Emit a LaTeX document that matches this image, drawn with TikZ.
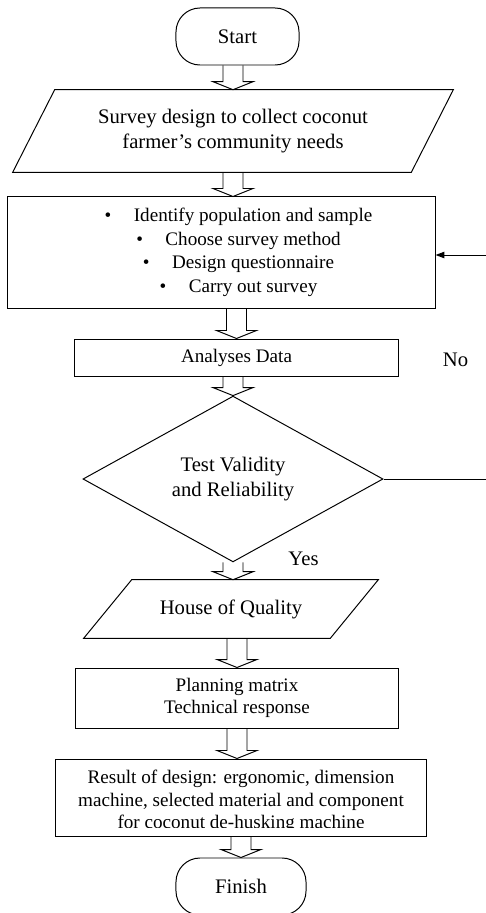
\documentclass[tikz,border=0pt]{standalone}
\usepackage{fontspec}
\setmainfont{Liberation Serif}
\usetikzlibrary{shapes.geometric,calc,arrows.meta}

\newcommand{\bigtext}{\fontsize{14.7}{17.6}\selectfont}
\newcommand{\smalltext}{\fontsize{13.6}{15.7}\selectfont}
% hollow block arrow: x taken from #1, from node #2 down to node #3
\newcommand{\hollowarrow}[3]{%
  \draw[hollow] ($(#1 |- #2.south)+(-10,0)$) -- ($(#1 |- #3.north)+(-10,-8)$)
    -- ++(-10,0) -- (#1 |- #3.north) -- ++(20,-8) -- ++(-10,0)
    -- ($(#1 |- #2.south)+(10,0)$);}
% slanted frame round node #1, top edge pushed right by #2
\newcommand{\slantframe}[2]{%
  \draw[line] (#1.south west) -- ($(#1.north west)+(#2,0)$) -- (#1.north east)
    -- ($(#1.south east)+(-#2,0)$) -- cycle;}

\tikzset{
  line/.style={line width=0.7pt},
  hollow/.style={line, line join=miter},
  terminal/.style={line, draw, rectangle, rounded corners=0.6cm, font=\bigtext, minimum height=1.425cm},
  inputbox/.style={rectangle, align=center, font=\bigtext},
  process/.style={line, draw, rectangle, align=center, font=\smalltext},
  decision/.style={line, draw, diamond, align=center, font=\bigtext, inner sep=0pt},
  plaintext/.style={align=center, inner sep=0pt},
}

\begin{document}
\begin{tikzpicture}[x=0.025cm, y=-0.025cm]
\useasboundingbox (0,0) rectangle (486,913);

\node[terminal, minimum width=3.075cm] (start) at (237.5,36.5) {Start};
\node[inputbox, minimum width=11cm, minimum height=2.05cm] (para1) at (233,131)
  {Survey design to collect coconut\\farmer’s community needs};
\slantframe{para1}{42}
\node[process, minimum width=10.675cm, minimum height=2.775cm] (box2) at (221.5,252.5) {};
\node[plaintext, font=\fontsize{13.6}{16.8}\selectfont] (steplist) at (238.5,252.5)
  {\textbullet\hspace{16pt}Identify population and sample\\
   \textbullet\hspace{16pt}Choose survey method\\
   \textbullet\hspace{16pt}Design questionnaire\\
   \textbullet\hspace{16pt}Carry out survey};
\node[process, minimum width=8.075cm, minimum height=0.925cm] (data) at (236.5,357.5) {Analyses Data};
\node[decision, minimum width=7.5cm, minimum height=3.85cm] (dec) at (233,479)
  {Test Validity\\and Reliability};
\node[inputbox, minimum width=7.35cm, minimum height=1.45cm] (hoq) at (231,609) {House of Quality};
\slantframe{hoq}{48}
\node[process, minimum width=8.05cm, minimum height=1.5cm] (plan) at (237,698)
  {Planning matrix\\Technical response};
\node[process, minimum width=9.25cm, minimum height=1.925cm] (result) at (241,797.5) {};
\begin{scope}
\clip (result.north west) rectangle ($(result.south east)+(0,-9)$);
\node[plaintext, font=\fontsize{13.6}{16}\selectfont] (resulttext) at (241,801.5)
  {Result of design: ergonomic, dimension\\
   machine, selected material and component\\
   for coconut de-husking machine};
\end{scope}
\node[terminal, minimum width=3.25cm] (finish) at (241,886.5) {Finish};

\node[plaintext, font=\bigtext] (nolabel) at (455.5,360) {No};
\node[plaintext, font=\bigtext] (yeslabel) at (303.5,559) {Yes};

\hollowarrow{para1}{start}{para1}
\hollowarrow{para1}{para1}{box2}
\hollowarrow{data}{box2}{data}
\hollowarrow{dec}{data}{dec}
\hollowarrow{dec}{dec}{hoq}
\hollowarrow{plan}{hoq}{plan}
\hollowarrow{plan}{plan}{result}
\hollowarrow{finish}{result}{finish}

% loop back when the test fails
\coordinate (backtop) at (486,255);
\coordinate (backbot) at (486,481);
\draw[line] (dec.east) -- (dec.east -| backbot);
\draw[line, -{Triangle[length=2.2mm,width=1.6mm]}] (backtop) -- (backtop -| box2.east);
\end{tikzpicture}
\end{document}
